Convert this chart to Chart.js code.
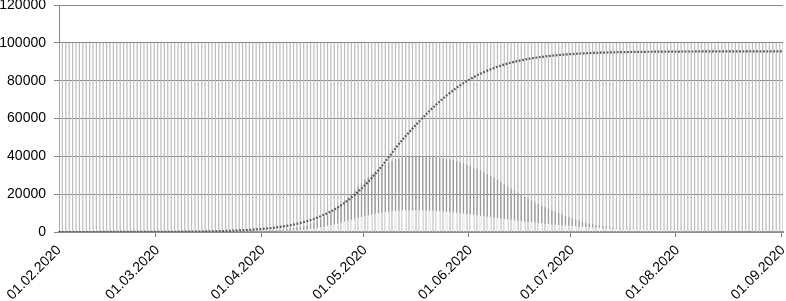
<!DOCTYPE html>
<html><head><meta charset="utf-8">
<script src="https://cdn.jsdelivr.net/npm/chart.js@4.4.1/dist/chart.umd.min.js"></script>
<style>html,body{margin:0;padding:0;background:#fff;} #wrap{width:786px;height:301px;}</style>
</head><body><div id="wrap"><canvas id="c" width="786" height="301"></canvas></div>
<script>
// Month-start tick labels shown on the x axis
const monthTicks = ['01.02.2020','01.03.2020','01.04.2020','01.05.2020','01.06.2020','01.07.2020','01.08.2020','01.09.2020'];
// Daily categories 01.02.2020 .. 01.09.2020
const days = [];
for (let i = 0; i < 214; i++) {
  const d = new Date(Date.UTC(2020, 1, 1 + i));
  const dd = String(d.getUTCDate()).padStart(2, '0');
  const mm = String(d.getUTCMonth() + 1).padStart(2, '0');
  days.push(dd + '.' + mm + '.' + d.getUTCFullYear());
}
const yTicks = [0, 20000, 40000, 60000, 80000, 100000, 120000];

// Population column (full height each day)
const population = [
100000,100000,100000,100000,100000,100000,100000,100000,100000,100000,
100000,100000,100000,100000,100000,100000,100000,100000,100000,100000,
100000,100000,100000,100000,100000,100000,100000,100000,100000,100000,
100000,100000,100000,100000,100000,100000,100000,100000,100000,100000,
100000,100000,100000,100000,100000,100000,100000,100000,100000,100000,
100000,100000,100000,100000,100000,100000,100000,100000,100000,100000,
100000,100000,100000,100000,100000,100000,100000,100000,100000,100000,
100000,100000,100000,100000,100000,100000,100000,100000,100000,100000,
100000,100000,100000,100000,100000,100000,100000,100000,100000,100000,
100000,100000,100000,100000,100000,100000,100000,100000,100000,100000,
100000,100000,100000,100000,100000,100000,100000,100000,100000,100000,
100000,100000,100000,100000,100000,100000,100000,100000,100000,100000,
100000,100000,100000,100000,100000,100000,100000,100000,100000,100000,
100000,100000,100000,100000,100000,100000,100000,100000,100000,100000,
100000,100000,100000,100000,100000,100000,100000,100000,100000,100000,
100000,100000,100000,100000,100000,100000,100000,100000,100000,100000,
100000,100000,100000,100000,100000,100000,100000,100000,100000,100000,
100000,100000,100000,100000,100000,100000,100000,100000,100000,100000,
100000,100000,100000,100000,100000,100000,100000,100000,100000,100000,
100000,100000,100000,100000,100000,100000,100000,100000,100000,100000,
100000,100000,100000,100000,100000,100000,100000,100000,100000,100000,
100000,100000,100000,100000
];

// Infected (outer bell)
const infected = [
0,0,0,0,0,0,0,0,0,0,
0,0,0,0,0,0,0,0,0,0,
0,0,0,0,0,0,0,0,0,0,
10,12,14,16,19,22,26,30,35,40,
46,53,61,70,80,92,105,120,137,156,
178,203,231,263,299,340,386,438,497,550,
600,700,800,920,1050,1200,1380,1580,1800,2050,
2350,2700,3100,3600,4200,4900,5800,6800,7900,9100,
10400,11800,13300,14900,16600,18400,20200,22100,24000,25800,
27500,29100,30600,32000,33300,34500,35600,36600,37500,38200,
38800,39250,39600,39850,40000,40100,40150,40150,40100,40000,
39850,39650,39400,39100,38750,38350,37900,37400,36850,36250,
35600,34900,34150,33350,32500,31600,30650,29650,28600,27500,
26400,25250,24100,22950,21800,20700,19600,18550,17550,16600,
15650,14750,13900,13100,12300,11550,10800,10050,9300,8550,
7800,7150,6550,6000,5450,4950,4500,4100,3700,3350,
3050,2750,2500,2250,2000,1800,1600,1430,1270,1120,
990,870,760,660,570,490,420,360,310,260,
220,185,155,130,110,92,77,64,53,44,
37,31,26,21,18,15,12,10,8,7,
6,5,4,3,3,2,2,2,1,1,
1,1,1,1
];

// Inner bell
const innerBell = [
0,0,0,0,0,0,0,0,0,0,
0,0,0,0,0,0,0,0,0,0,
0,0,0,0,0,0,0,0,0,0,
0,0,0,0,0,0,0,0,0,0,
5,6,7,8,9,10,12,14,16,18,
20,25,30,40,50,60,75,90,110,135,
160,195,235,280,335,400,475,560,660,780,
920,1080,1260,1470,1700,1960,2250,2570,2920,3300,
3700,4130,4580,5050,5530,6020,6520,7010,7490,7960,
8410,8840,9240,9610,9950,10250,10520,10760,10960,11130,
11270,11380,11460,11510,11540,11550,11530,11490,11430,11350,
11250,11130,11000,10850,10690,10520,10340,10150,9950,9740,
9520,9300,9070,8840,8600,8360,8120,7880,7640,7400,
7160,6920,6690,6460,6230,6010,5790,5580,5370,5170,
4970,4780,4590,4410,4230,4060,3900,3740,3580,3430,
3280,3140,3000,2870,2740,2610,2490,2380,2270,2160,
2060,1960,1860,1770,1680,1600,1520,1440,1370,1300,
1230,1170,1110,1050,990,940,890,840,800,760,
720,680,640,610,580,550,520,490,460,440,
410,390,370,350,330,310,290,280,260,250,
230,220,210,200,190,180,170,160,150,140,
130,120,115,110
];

// Cumulative curve (dotted)
const cumulative = [
4,4,5,5,6,7,7,8,9,10,
11,12,13,15,16,18,20,22,25,27,
30,33,37,41,45,50,55,61,68,75,
83,92,101,112,123,136,151,167,184,203,
225,248,274,303,335,370,408,450,498,552,
608,673,742,819,904,999,1103,1217,1343,1483,
1635,1805,1991,2195,2418,2668,2940,3237,3563,3930,
4321,4751,5221,5739,6303,6915,7585,8311,9104,9969,
10890,11893,12976,14148,15379,16725,18156,19650,21269,22957,
24754,26631,28593,30638,32750,34943,37188,39479,41813,44172,
46563,48750,50730,52705,54665,56610,58517,60367,62215,63987,
65726,67401,69029,70588,72093,73535,74914,76230,77480,78666,
79789,80849,81853,82797,83690,84528,85314,86043,86731,87374,
87971,88532,89053,89537,89984,90402,90788,91152,91484,91792,
92075,92342,92584,92808,93017,93216,93390,93554,93710,93849,
93978,94098,94210,94312,94405,94489,94573,94648,94714,94780,
94836,94883,94940,94978,95025,95063,95101,95129,95157,95186,
95214,95233,95252,95271,95290,95309,95328,95338,95347,95366,
95376,95385,95394,95402,95410,95417,95423,95429,95434,95439,
95444,95448,95452,95456,95459,95462,95465,95468,95471,95473,
95475,95477,95479,95481,95483,95484,95486,95487,95488,95489,
95490,95491,95492,95493
];

const FONT = { family: "'Liberation Sans', Arial, sans-serif", size: 14 };
const barCommon = { grouped: false, barPercentage: 0.36, categoryPercentage: 1, borderWidth: 0 };

new Chart(document.getElementById('c'), {
  type: 'bar',
  data: {
    labels: days,
    datasets: [
      { type: 'line', label: 'Cumulative', data: cumulative, borderColor: '#5a5a5a', borderWidth: 2.2,
        borderDash: [1.8, 1.6], pointRadius: 0, fill: false, tension: 0, order: 0 },
      Object.assign({ label: 'Inner', data: innerBell, backgroundColor: '#f0f0f0', order: 1 }, barCommon),
      Object.assign({ label: 'Infected', data: infected, backgroundColor: '#9a9a9a', order: 2 }, barCommon),
      Object.assign({ label: 'Population', data: population, backgroundColor: '#bdbdbd', order: 3 }, barCommon)
    ]
  },
  options: {
    responsive: false,
    animation: false,
    devicePixelRatio: 1,
    layout: { padding: { top: 5, right: 3, left: 0, bottom: 0 } },
    plugins: { legend: { display: false }, tooltip: { enabled: false } },
    scales: {
      x: {
        offset: false,
        z: 1,
        grid: {
          drawOnChartArea: false,
          tickLength: 5,
          color: (c) => monthTicks.includes(days[c.index]) ? '#7f7f7f' : 'rgba(0,0,0,0)'
        },
        border: { color: '#8c8c8c', width: 2 },
        ticks: {
          autoSkip: false, maxRotation: 45, minRotation: 45, font: FONT, color: '#000', padding: 5,
          callback: (v, i) => monthTicks.includes(days[i]) ? days[i] : ''
        },
        afterFit: (s) => { s.height = 69; s.paddingLeft = 0; s.paddingRight = 0; }
      },
      y: {
        min: 0, max: 120000,
        z: 1,
        afterBuildTicks: (s) => { s.ticks = yTicks.map(v => ({ value: v })); },
        ticks: { font: FONT, color: '#000', padding: 8, callback: (v) => String(v) },
        grid: { color: '#858585', tickLength: 5 },
        border: { color: '#858585' },
        afterFit: (s) => { s.width = 59; s.paddingTop = 0; s.paddingBottom = 0; }
      }
    }
  }
});
</script>
</body></html>
